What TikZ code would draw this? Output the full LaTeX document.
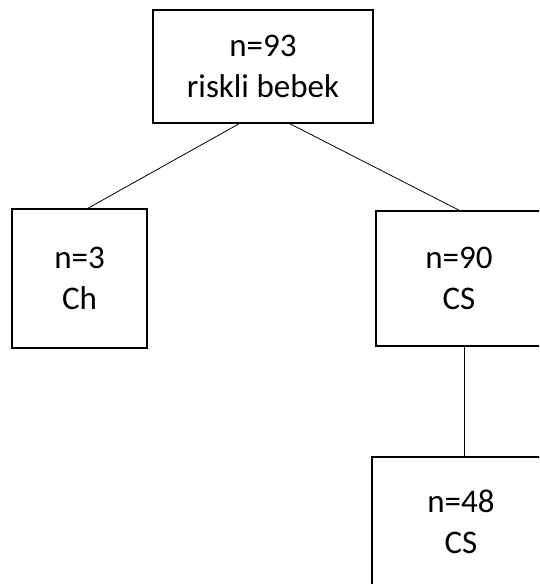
\documentclass[tikz,border=0pt]{standalone}
\usepackage{fontspec}
\setmainfont{Carlito}
\usetikzlibrary{calc}

\begin{document}
\begin{tikzpicture}[x=1pt,y=-1pt,
    box/.style={draw,line width=1.6pt,inner sep=0pt,align=center,
      font=\fontsize{33}{41}\selectfont},
    link/.style={line width=0.8pt}]
    \useasboundingbox (0,0) rectangle (539,584);
    \clip (0,0) rectangle (539,584);
    \node[box,minimum width=220pt,minimum height=113pt] (root) at (263,66.5) {n=93\\riskli bebek};
    \node[box,minimum width=135pt,minimum height=139pt] (ch) at (79.5,278.5) {n=3\\Ch};
    \node[box,minimum width=166pt,minimum height=135pt] (cs) at (459,278.5) {n=90\\CS};
    \node[box,minimum width=178pt,minimum height=130pt] (csb) at (461,522) {n=48\\CS};
    \draw[link] ([xshift=-24pt]root.south) -- ([xshift=8.5pt]ch.north);
    \draw[link] ([xshift=27pt]root.south) -- (cs.north);
    \draw[link] ([xshift=5pt]cs.south) -- ([xshift=3pt]csb.north);
\end{tikzpicture}
\end{document}
